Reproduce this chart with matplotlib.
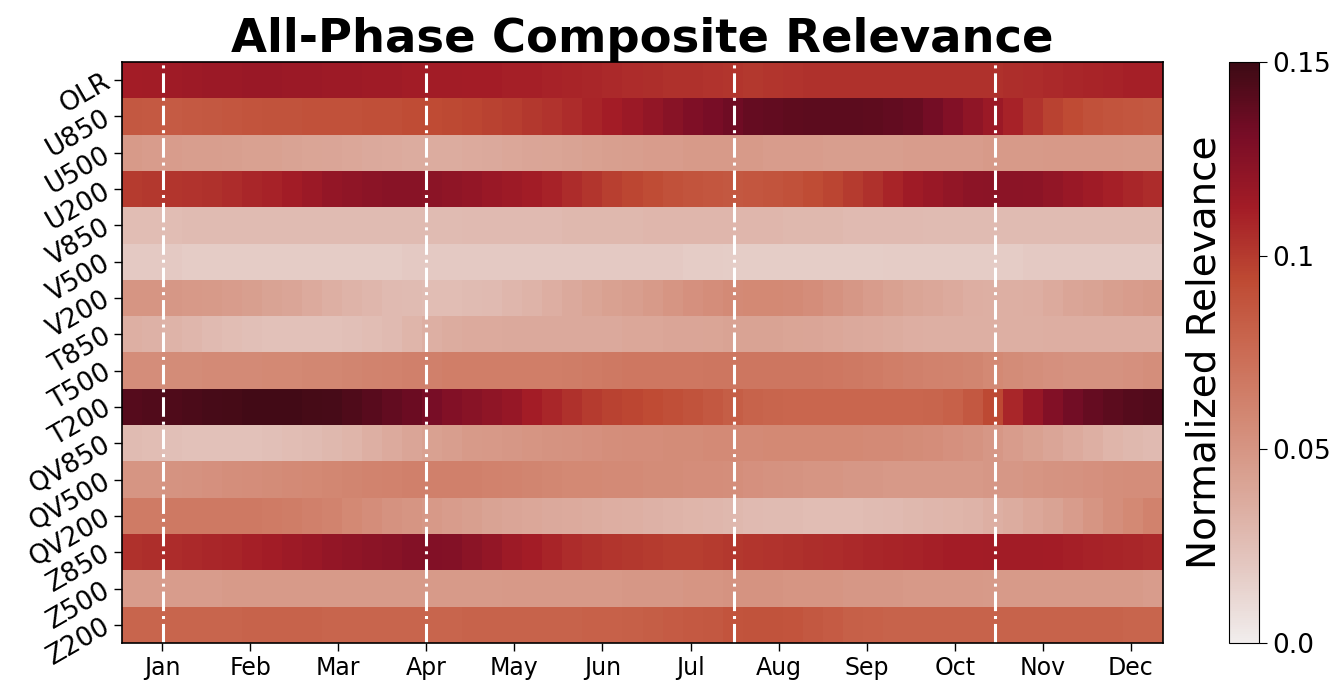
import numpy as np
import matplotlib
matplotlib.use("Agg")
import matplotlib.pyplot as plt
from matplotlib.colors import LinearSegmentedColormap

variables = ["OLR", "U850", "U500", "U200", "V850", "V500", "V200", "T850",
             "T500", "T200", "QV850", "QV500", "QV200", "Z850", "Z500", "Z200"]
months = ["Jan", "Feb", "Mar", "Apr", "May", "Jun", "Jul", "Aug", "Sep", "Oct", "Nov", "Dec"]
month_ticks = [2.0, 6.4, 10.8, 15.2, 19.6, 24.0, 28.4, 32.8, 37.2, 41.6, 46.0, 50.4]
phase_lines = [2.05, 15.2, 30.55, 43.6]

olr = [0.112,0.113,0.114,0.115,0.116,0.116,0.117,0.117,0.116,0.116,
       0.115,0.115,0.114,0.114,0.113,0.113,0.113,0.112,0.112,0.111,
       0.111,0.110,0.109,0.108,0.107,0.106,0.105,0.104,0.104,0.103,
       0.102,0.101,0.102,0.103,0.104,0.104,0.104,0.104,0.104,0.104,
       0.104,0.104,0.104,0.104,0.105,0.106,0.107,0.108,0.109,0.110,
       0.111,0.111]
u850 = [0.086,0.085,0.084,0.085,0.086,0.087,0.088,0.089,0.089,0.090,
        0.090,0.090,0.091,0.091,0.092,0.093,0.094,0.095,0.097,0.099,
        0.101,0.103,0.106,0.109,0.112,0.116,0.120,0.124,0.128,0.131,
        0.134,0.137,0.138,0.139,0.140,0.140,0.140,0.139,0.138,0.136,
        0.132,0.127,0.121,0.116,0.110,0.103,0.097,0.093,0.090,0.088,
        0.087,0.086]
u500 = [0.047,0.046,0.046,0.045,0.045,0.044,0.043,0.043,0.042,0.041,
        0.040,0.039,0.038,0.037,0.036,0.036,0.036,0.037,0.038,0.039,
        0.040,0.041,0.042,0.043,0.044,0.045,0.046,0.046,0.047,0.047,
        0.047,0.047,0.046,0.046,0.046,0.045,0.045,0.045,0.045,0.046,
        0.046,0.046,0.046,0.047,0.047,0.047,0.048,0.048,0.048,0.048,
        0.047,0.047]
u200 = [0.100,0.101,0.102,0.103,0.104,0.106,0.108,0.110,0.113,0.116,
        0.119,0.121,0.123,0.124,0.124,0.123,0.121,0.119,0.117,0.115,
        0.113,0.110,0.106,0.102,0.098,0.095,0.092,0.090,0.088,0.087,
        0.086,0.087,0.088,0.090,0.092,0.096,0.100,0.104,0.109,0.114,
        0.117,0.120,0.122,0.123,0.123,0.122,0.120,0.117,0.114,0.111,
        0.108,0.106]
v850 = [0.026,0.026,0.026,0.027,0.027,0.027,0.027,0.027,0.027,0.027,
        0.027,0.027,0.027,0.027,0.027,0.027,0.027,0.028,0.028,0.028,
        0.028,0.028,0.029,0.029,0.029,0.029,0.030,0.030,0.030,0.030,
        0.030,0.030,0.030,0.029,0.029,0.029,0.028,0.028,0.028,0.028,
        0.027,0.027,0.027,0.027,0.027,0.027,0.027,0.027,0.027,0.027,
        0.027,0.027]
v500 = [0.019,0.019,0.019,0.018,0.018,0.018,0.018,0.018,0.018,0.018,
        0.018,0.018,0.018,0.018,0.019,0.019,0.019,0.019,0.019,0.019,
        0.019,0.019,0.019,0.019,0.019,0.019,0.019,0.019,0.018,0.018,
        0.017,0.017,0.017,0.017,0.017,0.017,0.017,0.017,0.018,0.018,
        0.018,0.018,0.018,0.018,0.018,0.019,0.019,0.019,0.019,0.019,
        0.019,0.019]
v200 = [0.050,0.050,0.049,0.048,0.047,0.046,0.044,0.042,0.040,0.037,
        0.034,0.032,0.030,0.028,0.027,0.026,0.026,0.027,0.028,0.030,
        0.032,0.035,0.038,0.041,0.043,0.045,0.047,0.050,0.053,0.055,
        0.057,0.058,0.058,0.057,0.055,0.052,0.049,0.046,0.043,0.041,
        0.039,0.037,0.035,0.034,0.034,0.035,0.037,0.040,0.042,0.044,
        0.046,0.047]
t850 = [0.034,0.033,0.032,0.030,0.028,0.026,0.025,0.024,0.024,0.024,
        0.024,0.025,0.026,0.028,0.031,0.034,0.036,0.037,0.037,0.038,
        0.038,0.038,0.038,0.038,0.038,0.039,0.039,0.040,0.040,0.041,
        0.042,0.042,0.042,0.041,0.040,0.039,0.038,0.037,0.036,0.035,
        0.034,0.034,0.034,0.034,0.034,0.034,0.035,0.035,0.035,0.035,
        0.035,0.035]
t500 = [0.055,0.055,0.056,0.056,0.057,0.057,0.057,0.058,0.058,0.059,
        0.059,0.060,0.061,0.062,0.063,0.063,0.064,0.064,0.064,0.064,
        0.064,0.064,0.065,0.066,0.067,0.068,0.068,0.068,0.068,0.069,
        0.069,0.069,0.069,0.069,0.069,0.068,0.067,0.066,0.064,0.063,
        0.062,0.061,0.060,0.058,0.056,0.054,0.053,0.052,0.052,0.052,
        0.053,0.054]
t200 = [0.142,0.143,0.144,0.145,0.146,0.147,0.148,0.148,0.148,0.147,
        0.146,0.144,0.141,0.138,0.135,0.131,0.127,0.124,0.121,0.118,
        0.112,0.108,0.104,0.100,0.097,0.095,0.093,0.091,0.089,0.086,
        0.083,0.080,0.079,0.078,0.078,0.078,0.078,0.078,0.078,0.078,
        0.079,0.081,0.086,0.094,0.108,0.118,0.127,0.133,0.137,0.140,
        0.142,0.143]
qv850 = [0.027,0.026,0.025,0.024,0.024,0.024,0.024,0.025,0.026,0.027,
         0.029,0.031,0.034,0.037,0.040,0.043,0.045,0.047,0.048,0.049,
         0.050,0.051,0.052,0.053,0.054,0.055,0.055,0.056,0.056,0.057,
         0.057,0.057,0.058,0.058,0.058,0.058,0.058,0.057,0.057,0.056,
         0.055,0.053,0.051,0.049,0.046,0.043,0.040,0.037,0.034,0.031,
         0.029,0.028]
qv500 = [0.050,0.050,0.051,0.052,0.053,0.054,0.055,0.056,0.057,0.058,
         0.059,0.060,0.061,0.062,0.063,0.063,0.063,0.063,0.062,0.061,
         0.060,0.059,0.058,0.058,0.057,0.057,0.056,0.056,0.055,0.055,
         0.054,0.053,0.052,0.051,0.050,0.050,0.049,0.049,0.048,0.048,
         0.048,0.048,0.048,0.049,0.049,0.050,0.051,0.052,0.053,0.054,
         0.055,0.055]
qv200 = [0.066,0.066,0.067,0.067,0.067,0.067,0.067,0.066,0.065,0.063,
         0.061,0.058,0.055,0.052,0.050,0.048,0.046,0.044,0.042,0.040,
         0.039,0.038,0.037,0.036,0.035,0.034,0.033,0.032,0.031,0.030,
         0.029,0.028,0.027,0.027,0.026,0.026,0.026,0.027,0.028,0.029,
         0.030,0.031,0.032,0.034,0.036,0.039,0.042,0.046,0.050,0.054,
         0.058,0.062]
z850 = [0.104,0.105,0.106,0.107,0.108,0.109,0.111,0.113,0.115,0.117,
        0.119,0.121,0.123,0.124,0.126,0.127,0.126,0.123,0.119,0.115,
        0.112,0.109,0.106,0.104,0.102,0.101,0.100,0.099,0.099,0.100,
        0.101,0.102,0.103,0.104,0.105,0.106,0.107,0.108,0.109,0.110,
        0.111,0.112,0.112,0.113,0.113,0.113,0.112,0.111,0.110,0.109,
        0.108,0.107]
z500 = [0.046,0.046,0.046,0.046,0.046,0.047,0.047,0.047,0.047,0.047,
        0.047,0.047,0.047,0.047,0.047,0.047,0.047,0.047,0.047,0.048,
        0.048,0.048,0.048,0.048,0.048,0.049,0.049,0.049,0.050,0.050,
        0.051,0.051,0.051,0.050,0.050,0.050,0.049,0.049,0.049,0.048,
        0.048,0.048,0.048,0.047,0.047,0.047,0.047,0.047,0.047,0.047,
        0.047,0.046]
z200 = [0.079,0.079,0.079,0.079,0.079,0.079,0.080,0.080,0.080,0.080,
        0.079,0.079,0.079,0.079,0.079,0.079,0.079,0.080,0.080,0.080,
        0.080,0.080,0.080,0.081,0.081,0.082,0.083,0.084,0.085,0.086,
        0.088,0.089,0.089,0.088,0.086,0.084,0.082,0.081,0.080,0.080,
        0.080,0.080,0.080,0.080,0.080,0.080,0.080,0.080,0.080,0.080,
        0.079,0.079]

data = np.array([olr, u850, u500, u200, v850, v500, v200, t850, t500, t200,
                 qv850, qv500, qv200, z850, z500, z200])

amp = LinearSegmentedColormap.from_list("amp_like", [
    (0.000, (0.945, 0.930, 0.928)),
    (0.125, (0.895, 0.790, 0.765)),
    (0.250, (0.860, 0.665, 0.612)),
    (0.375, (0.828, 0.545, 0.467)),
    (0.500, (0.795, 0.423, 0.330)),
    (0.625, (0.745, 0.290, 0.200)),
    (0.750, (0.640, 0.110, 0.150)),
    (0.875, (0.470, 0.050, 0.150)),
    (1.000, (0.236, 0.040, 0.080)),
])

fig = plt.figure(figsize=(13.38, 6.86), dpi=100)
ax = fig.add_axes([0.0912, 0.0627, 0.778, 0.847])
cax = fig.add_axes([0.9185, 0.0627, 0.0224, 0.847])

nrow, ncol = data.shape
mesh = ax.pcolormesh(np.arange(ncol + 1), np.arange(nrow + 1), data,
                     cmap=amp, vmin=0.0, vmax=0.15, shading="flat")
ax.set_xlim(0, ncol)
ax.set_ylim(nrow, 0)

for xv in phase_lines:
    ax.axvline(xv, color="white", linestyle="-.", linewidth=2.2)

ax.set_xticks(month_ticks)
ax.set_xticklabels(months, fontsize=17)
ax.set_yticks(np.arange(nrow) + 0.5)
ax.set_yticklabels(variables, fontsize=19, rotation=30, ha="right",
                   rotation_mode="anchor", va="center")
ax.tick_params(axis="both", direction="out", length=6, width=1)
for s in ax.spines.values():
    s.set_linewidth(1.2)

ax.set_title("All-Phase Composite Relevance", fontsize=33.5, fontweight="bold", pad=6)

cb = fig.colorbar(mesh, cax=cax)
cb.set_ticks([0.0, 0.05, 0.1, 0.15])
cb.set_ticklabels(["0.0", "0.05", "0.1", "0.15"])
cb.ax.tick_params(labelsize=19, length=6)
cb.ax.yaxis.set_label_position("left")
cb.set_label("Normalized Relevance", fontsize=28, labelpad=4)

fig.savefig("out.png", dpi=100)
